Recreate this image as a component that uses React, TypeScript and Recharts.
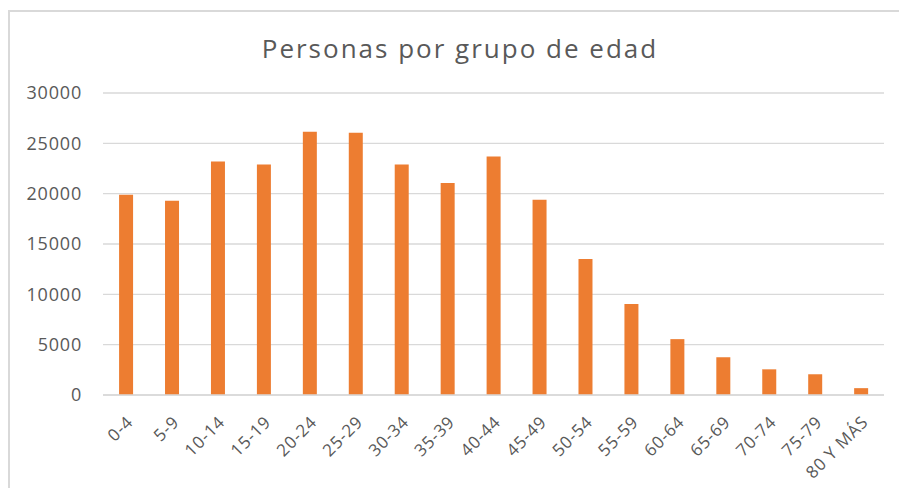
import React from "react";
import { BarChart, Bar, XAxis, YAxis, CartesianGrid } from "recharts";

const categories = ["0-4", "5-9", "10-14", "15-19", "20-24", "25-29", "30-34", "35-39", "40-44", "45-49", "50-54", "55-59", "60-64", "65-69", "70-74", "75-79", "80 Y MÁS"];
const personas = [19900, 19300, 23200, 22900, 26150, 26050, 22900, 21050, 23700, 19400, 13500, 9050, 5550, 3750, 2550, 2060, 680];
const yTicks = [0, 5000, 10000, 15000, 20000, 25000, 30000];
const title = "Personas por grupo de edad";

const data = categories.map((c, i) => ({ grupo: c, personas: personas[i] }));

const FONT = "'Open Sans', sans-serif";
const TEXT = "#595959";
const GRID = "#d9d9d9";

const XTick = (props: any) => {
  const { x, y, payload } = props;
  return (
    <g transform={`translate(${x + 4},${y + 16})`}>
      <text
        transform="rotate(-45)"
        textAnchor="end"
        dy="0.35em"
        fill={TEXT}
        fontSize={17}
        fontFamily={FONT}
        letterSpacing={0.8}
      >
        {payload.value}
      </text>
    </g>
  );
};

export default function App() {
  return (
    <div style={{ position: "relative", width: 899, height: 488, overflow: "hidden" }}>
      <style>{"html,body{margin:0;padding:0;overflow:hidden;}"}</style>
      <div
        style={{
          position: "absolute",
          left: 8,
          top: 10,
          width: 900,
          height: 490,
          boxSizing: "border-box",
          borderLeft: `2px solid ${GRID}`,
          borderTop: `2px solid ${GRID}`,
        }}
      />
      <div
        style={{
          position: "absolute",
          left: 160,
          top: 35,
          width: 600,
          textAlign: "center",
          fontFamily: FONT,
          fontSize: 26,
          lineHeight: "26px",
          letterSpacing: 2,
          color: TEXT,
          whiteSpace: "nowrap",
        }}
      >
        {title}
      </div>
      <div style={{ position: "absolute", left: 8, top: 8 }}>
        <BarChart
          width={883}
          height={480}
          data={data}
          margin={{ top: 85, right: 7, left: 0, bottom: 8 }}
          barCategoryGap="35%"
        >
          <CartesianGrid vertical={false} stroke={GRID} strokeWidth={1.3} />
          <XAxis
            dataKey="grupo"
            interval={0}
            height={85}
            tickLine={false}
            axisLine={{ stroke: GRID, strokeWidth: 1.5 }}
            tick={<XTick />}
          />
          <YAxis
            width={95}
            domain={[0, 30000]}
            ticks={yTicks}
            axisLine={false}
            tickLine={false}
            tickMargin={15}
            tick={{ fill: TEXT, fontSize: 18, fontFamily: FONT, letterSpacing: 0.8 }}
          />
          <Bar dataKey="personas" fill="#ED7D31" isAnimationActive={false} />
        </BarChart>
      </div>
    </div>
  );
}
